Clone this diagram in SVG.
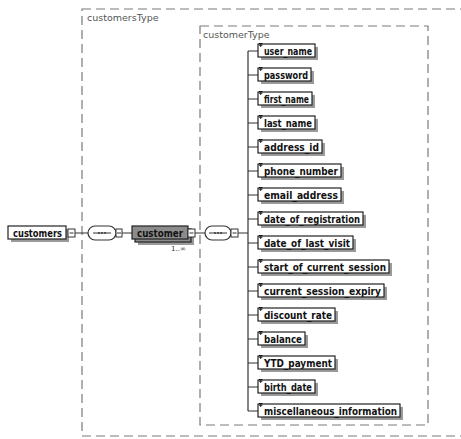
<svg xmlns="http://www.w3.org/2000/svg" width="461" height="439" viewBox="0 0 461 439">
<style>
.dash{fill:none;stroke:#7a7a7a;stroke-width:1.2;stroke-dasharray:9,5}
.tlabel{font-family:"DejaVu Sans",sans-serif;font-size:9.5px;fill:#555}
.box{fill:#fff;stroke:#222;stroke-width:1.2}
.shadow{fill:#9a9a9a}
.name{font-family:"DejaVu Sans",sans-serif;font-weight:bold;font-size:10px;fill:#111}
.line{stroke:#333;stroke-width:1.2;fill:none}
.sq{fill:#fff;stroke:#333;stroke-width:1}
.comp{fill:#fff;stroke:#333;stroke-width:1.2}
.icon{stroke:#111;stroke-width:0.9}
.grey{fill:#8c8c8c;stroke:#222;stroke-width:1.2}
.card{font-family:"DejaVu Sans",sans-serif;font-size:7px;fill:#333}
</style>
<defs>
  <g id="simpleIcon">
    <path class="icon" d="M0,0.5h3.5M0,2.2h3.5M1.7,0.5v3.5"/>
  </g>
  <g id="seqIcon">
    <path d="M-9,0h18" stroke="#333" stroke-width="1"/>
    <circle cx="-3" cy="0" r="0.9" fill="#333"/>
    <circle cx="0" cy="0" r="0.9" fill="#333"/>
    <circle cx="3" cy="0" r="0.9" fill="#333"/>
  </g>
</defs>
<rect width="461" height="439" fill="#fff"/>

<g id="customersType">
  <rect class="dash" x="82" y="9" width="400" height="427"/>
  <text class="tlabel" x="87" y="21">customersType</text>
</g>
<g id="customerType">
  <rect class="dash" x="200" y="26" width="228" height="399"/>
  <text class="tlabel" x="203" y="38">customerType</text>
</g>

<g id="connectors">
  <path class="line" d="M75,233H88M122,233H132M195,233H205M238,233H248"/>
  <path class="line" d="M248,51V411"/>
  <path class="line" d="M248,51h10M248,75h10M248,99h10M248,123h10M248,147h10M248,171h10M248,195h10M248,219h10M248,243h10M248,267h10M248,291h10M248,315h10M248,339h10M248,363h10M248,387h10M248,411h10"/>
</g>

<g id="customers">
  <rect class="shadow" x="11" y="229" width="58" height="13"/>
  <rect class="box" x="8" y="226" width="58" height="13"/>
  <text class="name" x="13" y="236.5" textLength="49" lengthAdjust="spacingAndGlyphs">customers</text>
  <rect class="sq" x="68" y="229" width="7" height="8"/>
  <path d="M69.5,233h4" stroke="#333" stroke-width="1"/>
</g>

<g id="sequence1">
  <rect class="comp" x="88" y="226" width="28" height="14" rx="7"/>
  <use href="#seqIcon" x="102" y="233"/>
  <rect class="sq" x="116" y="229" width="6" height="8"/>
  <path d="M117,233h4" stroke="#333" stroke-width="1"/>
</g>

<g id="customer">
  <rect class="shadow" x="138" y="232" width="56" height="13"/>
  <rect class="grey" x="135" y="229" width="56" height="13"/>
  <rect class="grey" x="132" y="226" width="56" height="13"/>
  <text class="name" x="137" y="236.5" textLength="46" lengthAdjust="spacingAndGlyphs">customer</text>
  <rect class="sq" x="188" y="229" width="7" height="8"/>
  <path d="M189.5,233h4" stroke="#333" stroke-width="1"/>
  <text class="card" x="171" y="251">1..∞</text>
</g>

<g id="sequence2">
  <rect class="comp" x="205" y="226" width="26" height="14" rx="7"/>
  <use href="#seqIcon" x="218" y="233"/>
  <rect class="sq" x="231" y="229" width="7" height="8"/>
  <path d="M232.5,233h4" stroke="#333" stroke-width="1"/>
</g>

<g id="user_name"><rect class="shadow" x="261" y="47" width="57" height="13"/><rect class="box" x="258" y="44" width="57" height="13"/><use href="#simpleIcon" x="259" y="43"/><text class="name" x="264" y="54.5" textLength="48" lengthAdjust="spacingAndGlyphs">user_name</text></g>
<g id="password"><rect class="shadow" x="261" y="71" width="53" height="13"/><rect class="box" x="258" y="68" width="53" height="13"/><use href="#simpleIcon" x="259" y="67"/><text class="name" x="264" y="78.5" textLength="44" lengthAdjust="spacingAndGlyphs">password</text></g>
<g id="first_name"><rect class="shadow" x="261" y="95" width="54" height="13"/><rect class="box" x="258" y="92" width="54" height="13"/><use href="#simpleIcon" x="259" y="91"/><text class="name" x="264" y="102.5" textLength="45" lengthAdjust="spacingAndGlyphs">first_name</text></g>
<g id="last_name"><rect class="shadow" x="261" y="119" width="57" height="13"/><rect class="box" x="258" y="116" width="57" height="13"/><use href="#simpleIcon" x="259" y="115"/><text class="name" x="264" y="126.5" textLength="48" lengthAdjust="spacingAndGlyphs">last_name</text></g>
<g id="address_id"><rect class="shadow" x="261" y="143" width="64" height="13"/><rect class="box" x="258" y="140" width="64" height="13"/><use href="#simpleIcon" x="259" y="139"/><text class="name" x="264" y="150.5" textLength="55" lengthAdjust="spacingAndGlyphs">address_id</text></g>
<g id="phone_number"><rect class="shadow" x="261" y="167" width="83" height="13"/><rect class="box" x="258" y="164" width="83" height="13"/><use href="#simpleIcon" x="259" y="163"/><text class="name" x="264" y="174.5" textLength="74" lengthAdjust="spacingAndGlyphs">phone_number</text></g>
<g id="email_address"><rect class="shadow" x="261" y="191" width="83" height="13"/><rect class="box" x="258" y="188" width="83" height="13"/><use href="#simpleIcon" x="259" y="187"/><text class="name" x="264" y="198.5" textLength="74" lengthAdjust="spacingAndGlyphs">email_address</text></g>
<g id="date_of_registration"><rect class="shadow" x="261" y="215" width="105" height="13"/><rect class="box" x="258" y="212" width="105" height="13"/><use href="#simpleIcon" x="259" y="211"/><text class="name" x="264" y="222.5" textLength="96" lengthAdjust="spacingAndGlyphs">date_of_registration</text></g>
<g id="date_of_last_visit"><rect class="shadow" x="261" y="239" width="95" height="13"/><rect class="box" x="258" y="236" width="95" height="13"/><use href="#simpleIcon" x="259" y="235"/><text class="name" x="264" y="246.5" textLength="86" lengthAdjust="spacingAndGlyphs">date_of_last_visit</text></g>
<g id="start_of_current_session"><rect class="shadow" x="261" y="263" width="131" height="13"/><rect class="box" x="258" y="260" width="131" height="13"/><use href="#simpleIcon" x="259" y="259"/><text class="name" x="264" y="270.5" textLength="122" lengthAdjust="spacingAndGlyphs">start_of_current_session</text></g>
<g id="current_session_expiry"><rect class="shadow" x="261" y="287" width="126" height="13"/><rect class="box" x="258" y="284" width="126" height="13"/><use href="#simpleIcon" x="259" y="283"/><text class="name" x="264" y="294.5" textLength="117" lengthAdjust="spacingAndGlyphs">current_session_expiry</text></g>
<g id="discount_rate"><rect class="shadow" x="261" y="311" width="77" height="13"/><rect class="box" x="258" y="308" width="77" height="13"/><use href="#simpleIcon" x="259" y="307"/><text class="name" x="264" y="318.5" textLength="68" lengthAdjust="spacingAndGlyphs">discount_rate</text></g>
<g id="balance"><rect class="shadow" x="261" y="335" width="47" height="13"/><rect class="box" x="258" y="332" width="47" height="13"/><use href="#simpleIcon" x="259" y="331"/><text class="name" x="264" y="342.5" textLength="38" lengthAdjust="spacingAndGlyphs">balance</text></g>
<g id="YTD_payment"><rect class="shadow" x="261" y="359" width="77" height="13"/><rect class="box" x="258" y="356" width="77" height="13"/><use href="#simpleIcon" x="259" y="355"/><text class="name" x="264" y="366.5" textLength="68" lengthAdjust="spacingAndGlyphs">YTD_payment</text></g>
<g id="birth_date"><rect class="shadow" x="261" y="383" width="57" height="13"/><rect class="box" x="258" y="380" width="57" height="13"/><use href="#simpleIcon" x="259" y="379"/><text class="name" x="264" y="390.5" textLength="48" lengthAdjust="spacingAndGlyphs">birth_date</text></g>
<g id="miscellaneous_information"><rect class="shadow" x="261" y="407" width="142" height="13"/><rect class="box" x="258" y="404" width="142" height="13"/><use href="#simpleIcon" x="259" y="403"/><text class="name" x="264" y="414.5" textLength="133" lengthAdjust="spacingAndGlyphs">miscellaneous_information</text></g>
</svg>
